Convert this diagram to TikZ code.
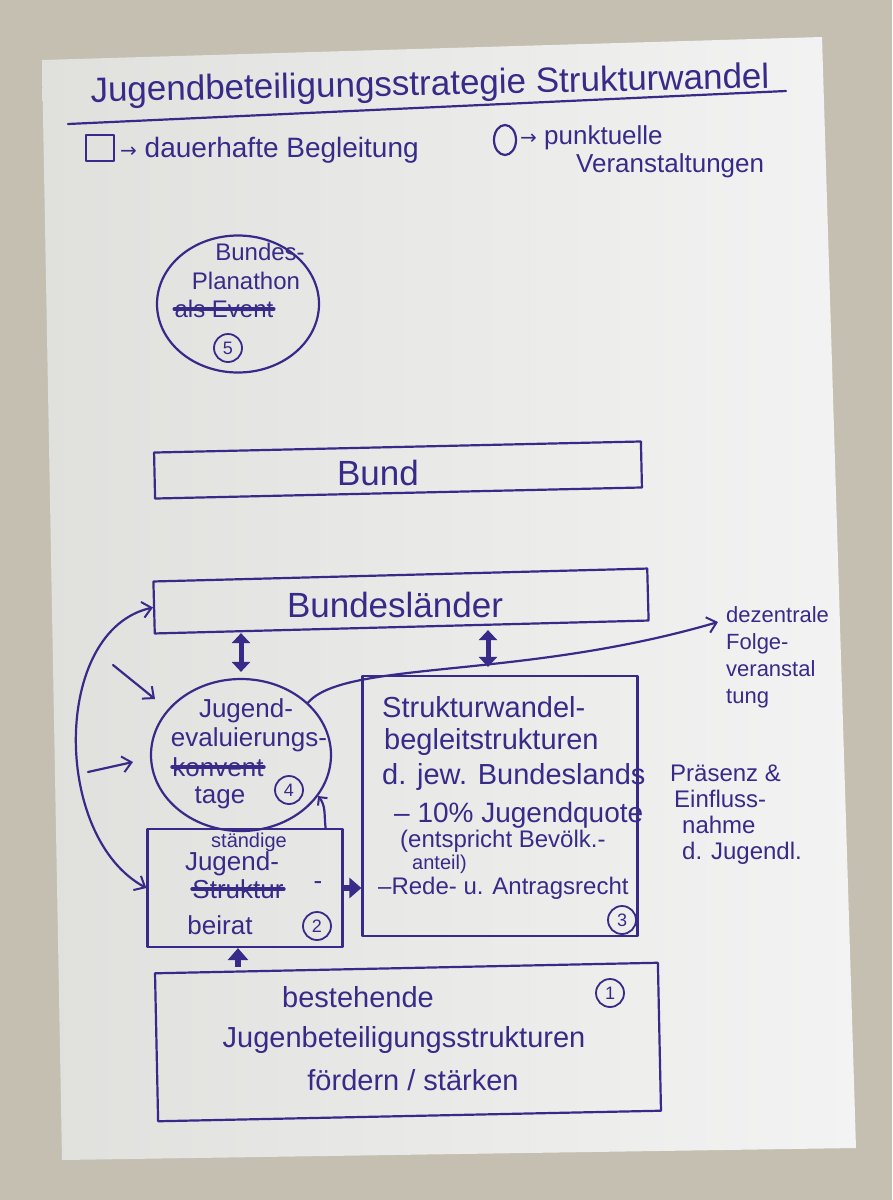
\documentclass[tikz,border=0pt]{standalone}
\usepackage{fontspec}
\setmainfont{Liberation Sans}
\newfontfamily\symf{DejaVu Sans}
\usetikzlibrary{arrows.meta,shapes.geometric,calc}
\definecolor{ink}{RGB}{56,42,136}
\definecolor{bg}{RGB}{196,191,176}
\definecolor{paperA}{RGB}{224,224,221}
\definecolor{paperB}{RGB}{243,243,243}
\begin{document}
\begin{tikzpicture}[x=1pt,y=-1pt,
  pen/.style={draw=ink, line width=2.2pt, line join=round, line cap=round},
  hw/.style={text=ink, inner sep=0pt, align=left},
  boxn/.style={pen, rectangle, inner sep=0pt},
  ov/.style={pen, ellipse, inner sep=0pt},
  strike/.style={draw=ink, line width=4pt, line cap=round},
  numc/.style={draw=ink, line width=1.8pt, circle, minimum size=28pt, inner sep=0pt, text=ink, font=\fontsize{18}{18}\selectfont},
  barb/.style={pen, -{Straight Barb[length=9pt,width=16pt,line width=2pt]}},
  dbl/.style={draw=ink, line width=5pt, {Triangle[length=10pt,width=18pt]}-{Triangle[length=10pt,width=18pt]}},
  fat/.style={draw=ink, line width=6pt, -{Triangle[length=12pt,width=20pt]}},
  fA/.style={font=\fontsize{35}{40}\selectfont},
  fB/.style={font=\fontsize{28}{30}\selectfont},
  fG/.style={font=\fontsize{26}{28}\selectfont},
  fC/.style={font=\fontsize{24}{27}\selectfont},
  fD/.style={font=\fontsize{29}{32}\selectfont},
  fE/.style={font=\fontsize{20}{22}\selectfont},
]
\useasboundingbox (0,0) rectangle (892,1200);
\fill[bg] (0,0) rectangle (892,1200);
\shade[left color=paperA, right color=paperB] (42,60) -- (822,37) -- (856,1148) -- (62,1160) -- cycle;

% title and legend
\node[hw, fA, rotate=1.2] (title) at (430,86) {Jugendbeteiligungsstrategie Strukturwandel};
\draw[pen] (68,124) -- (786,91);
\node[boxn, minimum width=28pt, minimum height=26pt] (lsq) at (100,148) {};
\node[hw, fB, anchor=west] (lt1) at (120,150) {{\symf\fontsize{20}{20}\selectfont →} dauerhafte Begleitung};
\node[ov, minimum width=22pt, minimum height=30pt] (lov) at (505,140) {};
\node[hw, fG, anchor=west] (lt2) at (520,138) {{\symf\fontsize{20}{20}\selectfont →} punktuelle};
\node[hw, fG, anchor=west] (lt3) at (576,166) {Veranstaltungen};

% Planathon
\node[ov, minimum width=162pt, minimum height=137pt] (plan) at (238,304) {};
\node[hw, fC] (planA) at (260,252) {Bundes-};
\node[hw, fC] (planB) at (246,281) {Planathon};
\node[hw, fC] (planC) at (224,309) {als Event};
\draw[strike] (planC.west) -- (planC.east);
\node[numc] (n5) at (228,348) {5};

% Bund
\node[boxn, minimum width=487pt, minimum height=46pt, rotate=1.3] (bund) at (398,470) {};
\node[hw, fA] (bundT) at (378,473) {Bund};

% Bundeslaender
\node[boxn, minimum width=494pt, minimum height=52pt, rotate=1.5] (bl) at (401,601) {};
\node[hw, fA] (blT) at (395,605) {Bundesländer};

% Jugendevaluierungstage
\node[ov, minimum width=180pt, minimum height=152pt] (jet) at (241,755) {};
\node[hw, fG] (jetA) at (246,711) {Jugend-};
\node[hw, fG] (jetB) at (249,740) {evaluierungs-};
\node[hw, fG] (jetC) at (218,767) {konvent};
\draw[strike] (jetC.west) -- (jetC.east);
\node[hw, fG] (jetD) at (220,798) {tage};
\node[numc] (n4) at (289,790) {4};

% Jugendbeirat
\node[boxn, minimum width=195pt, minimum height=118pt] (bei) at (245,888) {};
\node[hw, fE] (beiA) at (249,842) {ständige};
\node[hw, fG] (beiB) at (232,864) {Jugend-};
\node[hw, fG] (beiC) at (238,889) {Struktur};
\draw[strike] (beiC.west) -- (beiC.east);
\node[hw, fG] (beiC2) at (318,886) {-};
\node[hw, fG] (beiD) at (220,925) {beirat};
\node[numc] (n2) at (317,926) {2};

% Strukturwandelbegleitstrukturen
\node[boxn, minimum width=275pt, minimum height=260pt] (sbs) at (500,806) {};
\node[hw, fD, anchor=west] (s1) at (382,707) {Strukturwandel-};
\node[hw, fD, anchor=west] (s2) at (384,742) {begleitstrukturen};
\node[hw, fD, anchor=west] (s3) at (382,777) {d. jew. Bundeslands};
\node[hw, fB, anchor=west] (s4) at (394,815) {– 10\% Jugendquote};
\node[hw, fC, anchor=west] (s5) at (400,841) {(entspricht Bevölk.-};
\node[hw, fE, anchor=west] (s6) at (412,864) {anteil)};
\node[hw, fC, anchor=west] (s7) at (378,888) {–Rede- u. Antragsrecht};
\node[numc] (n3) at (622,920) {3};

% bestehende
\node[boxn, minimum width=503pt, minimum height=148pt, rotate=1.2] (best) at (408,1042) {};
\node[hw, fD] (bestA) at (358,997) {bestehende};
\node[hw, fD] (bestB) at (404,1040) {Jugenbeteiligungsstrukturen};
\node[hw, fD] (bestC) at (413,1080) {fördern / stärken};
\node[numc] (n1) at (610,993) {1};

% right notes
\node[hw, anchor=north west, font=\fontsize{22}{27}\selectfont] (dez) at (726,606) {dezentrale\\Folge-\\veranstal\\tung};
\node[hw, anchor=north west, font=\fontsize{24}{26}\selectfont] (praes) at (670,765) {Präsenz \&\\\hspace*{4pt}Einfluss-\\\hspace*{12pt}nahme\\\hspace*{12pt}d. Jugendl.};
\coordinate (dezIn) at (718,622);

% connectors
\draw[dbl, shorten <=5pt, shorten >=6pt] (jet.north |- bl.south) -- (jet.north);
\draw[dbl, shorten <=2pt, shorten >=8pt] ([xshift=-12pt]sbs.north |- bl.south) -- ([xshift=-12pt]sbs.north);
\draw[barb] (jet.38) .. controls (345,660) and (520,680) .. (dezIn);
\draw[pen, -{Straight Barb[length=6pt,width=12pt,line width=2pt]}] ([xshift=-18pt]bei.north east) .. controls (324,815) and (326,806) .. (jet.-28);
\draw[fat] (bei.east) -- (sbs.west |- bei.east);
\draw[fat] ([xshift=-7pt]bei.south |- best.north) -- ([xshift=-7pt]bei.south);
\draw[pen, {Straight Barb[length=9pt,width=16pt,line width=2pt]}-{Straight Barb[length=9pt,width=16pt,line width=2pt]}] (bl.west) .. controls (52,630) and (52,837) .. (bei.west);
\coordinate (s1a) at (113,665);
\coordinate (s1b) at (155,699);
\coordinate (s2a) at (88,772);
\coordinate (s2b) at (133,762);
\draw[barb] (s1a) -- (s1b);
\draw[barb] (s2a) -- (s2b);
\end{tikzpicture}
\end{document}
